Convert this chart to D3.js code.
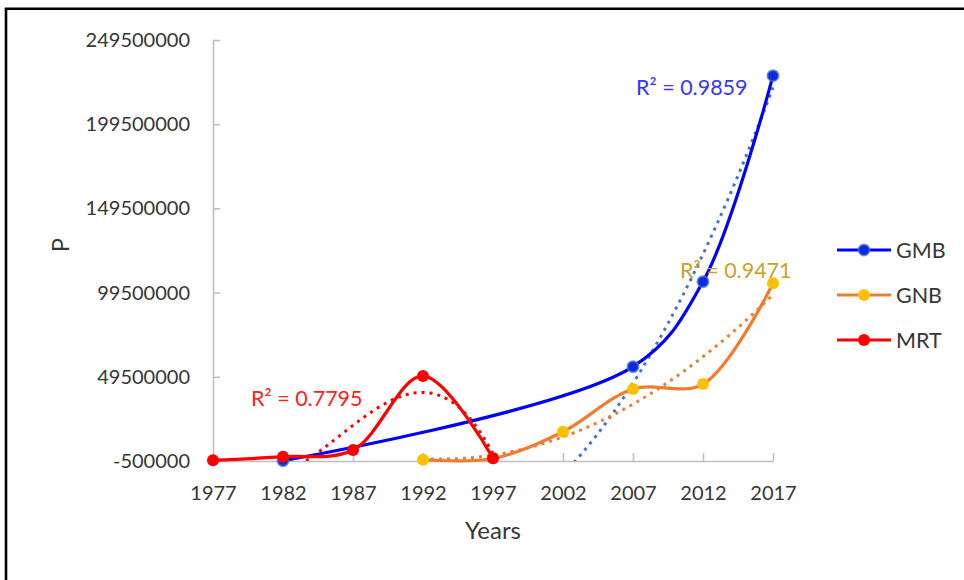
<!DOCTYPE html>
<html><head><meta charset="utf-8">
<script src="https://cdn.jsdelivr.net/npm/d3@7"></script>
<style>
html,body{margin:0;padding:0;background:#fff;}
text{font-family:Lato,"Open Sans",sans-serif;}
</style></head>
<body>
<svg id="chart" width="964" height="580"></svg>
<script>
// ---------- data ----------
const years = ["1977","1982","1987","1992","1997","2002","2007","2012","2017"];
const gmbValues = [null, -300000, null, null, null, null, 55500000, 106000000, 228300000];
const gnbValues = [null, null, null, 300000, 1000000, 16900000, 42300000, 45200000, 105000000];
const mrtValues = [0, 2050000, 6000000, 50000000, 1100000, null, null, null, null];
const seriesNames = ["GMB","GNB","MRT"];
const trendOrders = [2, 2, 3];
const r2Labels = ["R² = 0.9859", "R² = 0.9471", "R² = 0.7795"];
const yTicks = [-500000, 49500000, 99500000, 149500000, 199500000, 249500000];

// ---------- styles ----------
const lineColors = ["#0000ff", "#ed7d31", "#ff0000"];
const markerColors = ["#0a28e6", "#ffc000", "#ff0000"];
const trendColors = ["#4472c4", "#ed7d31", "#ff0000"];
const labelColors = ["#3535ff", "#c9a227", "#ff2020"];
const labelPos = [[636, 95], [680, 278], [251, 406]];
const textColor = "#363636";

const svg = d3.select("#chart");
const x = d3.scalePoint().domain(years).range([213, 773]);
const y = d3.scaleLinear().domain([-500000, 249500000]).range([461, 40]);

// outer frame
svg.append("path").attr("d", "M6,600 L6,8.8 L980,8.8")
  .attr("fill", "none").attr("stroke", "#000").attr("stroke-width", 2.6);

svg.append("defs").append("clipPath").attr("id", "plotclip")
  .append("rect").attr("x", 150).attr("y", 40).attr("width", 700).attr("height", 421);

// axes
const gx = svg.append("g").attr("transform", "translate(0,461)")
  .call(d3.axisBottom(x).tickSizeInner(-8).tickSizeOuter(0).tickPadding(25));
const gy = svg.append("g").attr("transform", "translate(213,0)")
  .call(d3.axisLeft(y).tickValues(yTicks).tickFormat(d => String(d)).tickSizeInner(-7).tickSizeOuter(0).tickPadding(23));
[gx, gy].forEach(g => {
  g.select(".domain").attr("stroke", "#c0c0c0").attr("stroke-width", 1.6);
  g.selectAll(".tick line").attr("stroke", "#c0c0c0").attr("stroke-width", 1.6);
  g.selectAll(".tick text").attr("fill", textColor).style("font-size", "20px").style("font-family", "Lato");
});

// axis titles
svg.append("text").attr("x", 493).attr("y", 539).attr("text-anchor", "middle")
  .attr("fill", textColor).style("font-size", "24px").text("Years");
svg.append("text").attr("transform", "translate(69,245) rotate(-90)").attr("text-anchor", "middle")
  .attr("fill", textColor).style("font-size", "23px").text("P");

// polynomial least squares fit (Excel-style, x = 1-based category index)
function polyFit(xs, ys, order) {
  const n = order + 1;
  const A = Array.from({length: n}, () => new Array(n + 1).fill(0));
  for (let k = 0; k < xs.length; k++) {
    for (let i = 0; i < n; i++) {
      for (let j = 0; j < n; j++) A[i][j] += Math.pow(xs[k], i + j);
      A[i][n] += ys[k] * Math.pow(xs[k], i);
    }
  }
  for (let i = 0; i < n; i++) {
    let p = i;
    for (let r = i + 1; r < n; r++) if (Math.abs(A[r][i]) > Math.abs(A[p][i])) p = r;
    [A[i], A[p]] = [A[p], A[i]];
    for (let r = 0; r < n; r++) {
      if (r === i) continue;
      const f = A[r][i] / A[i][i];
      for (let c = i; c <= n; c++) A[r][c] -= f * A[i][c];
    }
  }
  const coef = A.map((row, i) => row[n] / row[i]);
  return t => coef.reduce((s, c, i) => s + c * Math.pow(t, i), 0);
}

const allSeries = [gmbValues, gnbValues, mrtValues];
const xIdx = d3.scaleLinear().domain([0, years.length - 1]).range([213, 773]);

// trendlines
const trendG = svg.append("g").attr("clip-path", "url(#plotclip)");
allSeries.forEach((vals, s) => {
  const pts = vals.map((v, i) => [i, v]).filter(p => p[1] !== null);
  const f = polyFit(pts.map(p => p[0] + 1), pts.map(p => p[1] / 1e6), trendOrders[s]);
  const i0 = pts[0][0], i1 = pts[pts.length - 1][0];
  const samples = d3.range(i0, i1 + 0.0001, 0.02).map(t => [xIdx(t), y(f(t + 1) * 1e6)]);
  trendG.append("path").attr("d", d3.line()(samples))
    .attr("fill", "none").attr("stroke", trendColors[s]).attr("stroke-width", 3)
    .attr("stroke-dasharray", "3,5");
});

// series lines
const lineGen = d3.line().x(d => x(d.year)).y(d => y(d.v)).curve(d3.curveCatmullRom.alpha(0.5));
allSeries.forEach((vals, s) => {
  const pts = vals.map((v, i) => ({year: years[i], v})).filter(d => d.v !== null);
  svg.append("path").attr("d", lineGen(pts)).attr("fill", "none")
    .attr("stroke", lineColors[s]).attr("stroke-width", 3.2).attr("stroke-linejoin", "round");
});
// markers
allSeries.forEach((vals, s) => {
  const pts = vals.map((v, i) => ({year: years[i], v})).filter(d => d.v !== null);
  svg.append("g").selectAll("circle").data(pts).join("circle")
    .attr("cx", d => x(d.year)).attr("cy", d => y(d.v)).attr("r", s === 0 ? 5.5 : 6)
    .attr("fill", markerColors[s])
    .attr("stroke", s === 0 ? "#4472c4" : "none").attr("stroke-width", s === 0 ? 2 : 0)
    .attr("stroke-opacity", 0.7);
});

// R² labels
r2Labels.forEach((t, s) => {
  svg.append("text").attr("x", labelPos[s][0]).attr("y", labelPos[s][1])
    .attr("fill", labelColors[s]).style("font-size", "21.5px").text(t);
});

// legend
const legY = [250, 295, 340];
seriesNames.forEach((nm, s) => {
  const g = svg.append("g");
  g.append("line").attr("x1", 837).attr("x2", 891).attr("y1", legY[s]).attr("y2", legY[s])
    .attr("stroke", lineColors[s]).attr("stroke-width", 3.2);
  g.append("circle").attr("cx", 864).attr("cy", legY[s]).attr("r", s === 0 ? 5.5 : 6)
    .attr("fill", markerColors[s])
    .attr("stroke", s === 0 ? "#4472c4" : "none").attr("stroke-width", s === 0 ? 2 : 0)
    .attr("stroke-opacity", 0.7);
  g.append("text").attr("x", 896).attr("y", legY[s]).attr("dy", "0.36em")
    .attr("fill", textColor).style("font-size", "21.5px").text(nm);
});
</script>
</body></html>
